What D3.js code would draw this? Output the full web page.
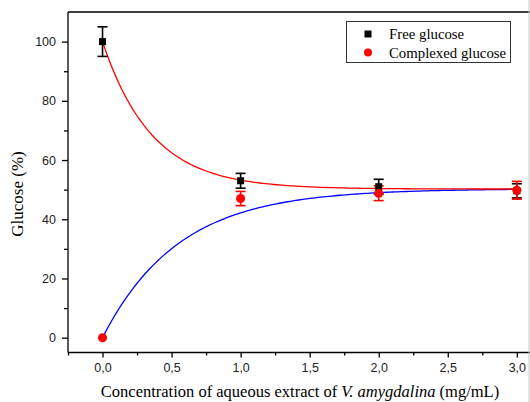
<!DOCTYPE html>
<html>
<head>
<meta charset="utf-8">
<script src="https://cdn.jsdelivr.net/npm/d3@7"></script>
<style>
  body { margin: 0; background: #fff; }
  svg { display: block; }
</style>
</head>
<body>
<div id="graph"></div>
<script>
// concentrations (mg/mL)
const concentrations = [0, 1, 2, 3];
// free glucose (%) and its error
const freeGlucose = [100, 53, 51, 49.6];
const freeError = [5, 2.5, 2.5, 2.4];
// complexed glucose (%) and its error
const complexedGlucose = [0, 47, 48.8, 49.8];
const complexedError = [0, 2.4, 2.5, 3.0];
// exponential fits: y = base + amp * exp(-rate * x)
const freeFit = { base: 50.2, amp: 49.8, rate: 2.8 };
const complexedFit = { base: 50.3, amp: -50.3, rate: 1.82 };
const xTicks = [0, 0.5, 1, 1.5, 2, 2.5, 3];
const yTicks = [0, 20, 40, 60, 80, 100];

const margin = { top: 12, left: 68 };
const W = 530, H = 402;
const plotBottom = 352.5;

const svg = d3.select("#graph").append("svg")
    .attr("width", W)
    .attr("height", H);

const x = d3.scaleLinear().domain([-0.25, 3.25]).range([margin.left, margin.left + 3.5 * 138.1]);
const y = d3.scaleLinear().domain([-5, 110]).range([plotBottom, margin.top]);

const fmt = d => d3.format(".1f")(d).replace(".", ",");

// x axis
const xAxis = svg.append("g")
    .attr("transform", `translate(0, ${plotBottom})`)
    .call(d3.axisBottom(x).tickValues(xTicks).tickSize(5).tickPadding(6).tickFormat(fmt));
svg.append("g")
    .attr("transform", `translate(0, ${plotBottom})`)
    .call(d3.axisBottom(x).tickValues(d3.range(-0.25, 3.3, 0.5)).tickSize(3).tickFormat(""))
    .select(".domain").remove();

// y axis
const yAxis = svg.append("g")
    .attr("transform", `translate(${margin.left}, 0)`)
    .call(d3.axisLeft(y).tickValues(yTicks).tickSize(6).tickPadding(6));
svg.append("g")
    .attr("transform", `translate(${margin.left}, 0)`)
    .call(d3.axisLeft(y).tickValues(d3.range(10, 110, 20)).tickSize(4).tickFormat(""))
    .select(".domain").remove();

svg.selectAll(".tick text")
    .attr("font-family", "Liberation Sans, Arial, sans-serif")
    .attr("font-size", 12.5)
    .attr("fill", "#222");
svg.selectAll(".domain, .tick line").attr("stroke", "#000").attr("stroke-width", 1.3);
xAxis.select(".domain").attr("d", `M${margin.left},0H${W + 10}`);
yAxis.select(".domain").attr("d", `M0,${plotBottom}V${margin.top}`);

// top frame line and right edge
svg.append("line")
    .attr("x1", margin.left).attr("x2", W)
    .attr("y1", margin.top).attr("y2", margin.top)
    .attr("stroke", "#000").attr("stroke-width", 1.3);
svg.append("line")
    .attr("x1", W - 1).attr("x2", W - 1)
    .attr("y1", 0).attr("y2", H)
    .attr("stroke", "#c8c8c8").attr("stroke-width", 1);

// fitted curves
const xs = d3.range(0, 3.0001, 0.02);
const line = d3.line().x(d => x(d[0])).y(d => y(d[1]));
svg.append("path")
    .datum(xs.map(v => [v, complexedFit.base + complexedFit.amp * Math.exp(-complexedFit.rate * v)]))
    .attr("fill", "none").attr("stroke", "#0000ff").attr("stroke-width", 1.3)
    .attr("d", line);
svg.append("path")
    .datum(xs.map(v => [v, freeFit.base + freeFit.amp * Math.exp(-freeFit.rate * v)]))
    .attr("fill", "none").attr("stroke", "#ff0000").attr("stroke-width", 1.3)
    .attr("d", line);

// error bars
function errorBars(vals, errs, color) {
    const g = svg.append("g").attr("stroke", color).attr("stroke-width", 1.6);
    concentrations.forEach((c, i) => {
        if (!errs[i]) return;
        const cx = x(c), top = y(vals[i] + errs[i]), bot = y(vals[i] - errs[i]);
        g.append("line").attr("x1", cx).attr("x2", cx).attr("y1", top).attr("y2", bot);
        g.append("line").attr("x1", cx - 5).attr("x2", cx + 5).attr("y1", top).attr("y2", top);
        g.append("line").attr("x1", cx - 5).attr("x2", cx + 5).attr("y1", bot).attr("y2", bot);
    });
}
errorBars(freeGlucose, freeError, "#000");
errorBars(complexedGlucose, complexedError, "#ff0000");

// markers
svg.selectAll(".sq").data(freeGlucose).join("rect")
    .attr("x", (d, i) => x(concentrations[i]) - 3.5)
    .attr("y", d => y(d) - 3.5)
    .attr("width", 7).attr("height", 7)
    .attr("fill", "#000");
svg.selectAll(".dot").data(complexedGlucose).join("circle")
    .attr("cx", (d, i) => x(concentrations[i]))
    .attr("cy", d => y(d))
    .attr("r", 4.5)
    .attr("fill", "#ff0000");

// legend
const lg = svg.append("g");
lg.append("rect")
    .attr("x", 346.5).attr("y", 21.5).attr("width", 164).attr("height", 41)
    .attr("fill", "#fff").attr("stroke", "#333").attr("stroke-width", 1);
lg.append("rect").attr("x", 364.5).attr("y", 30.5).attr("width", 7).attr("height", 7).attr("fill", "#000");
lg.append("circle").attr("cx", 368).attr("cy", 52.5).attr("r", 4).attr("fill", "#ff0000");
const legendNames = ["Free glucose", "Complexed glucose"];
lg.selectAll("text").data(legendNames).join("text")
    .attr("x", 389)
    .attr("y", (d, i) => 39 + i * 18.5)
    .attr("font-family", "Liberation Serif, Times New Roman, serif")
    .attr("font-size", 14.8)
    .attr("fill", "#000")
    .text(d => d);

// axis titles
svg.append("text")
    .attr("transform", "translate(23, 194) rotate(-90)")
    .attr("text-anchor", "middle")
    .attr("font-family", "Liberation Serif, Times New Roman, serif")
    .attr("font-size", 17)
    .text("Glucose (%)");
const xt = svg.append("text")
    .attr("x", 300).attr("y", 397)
    .attr("text-anchor", "middle")
    .attr("font-family", "Liberation Serif, Times New Roman, serif")
    .attr("font-size", 16.5);
xt.append("tspan").text("Concentration of aqueous extract of ");
xt.append("tspan").attr("font-style", "italic").text("V. amygdalina");
xt.append("tspan").text(" (mg/mL)");
</script>
</body>
</html>
